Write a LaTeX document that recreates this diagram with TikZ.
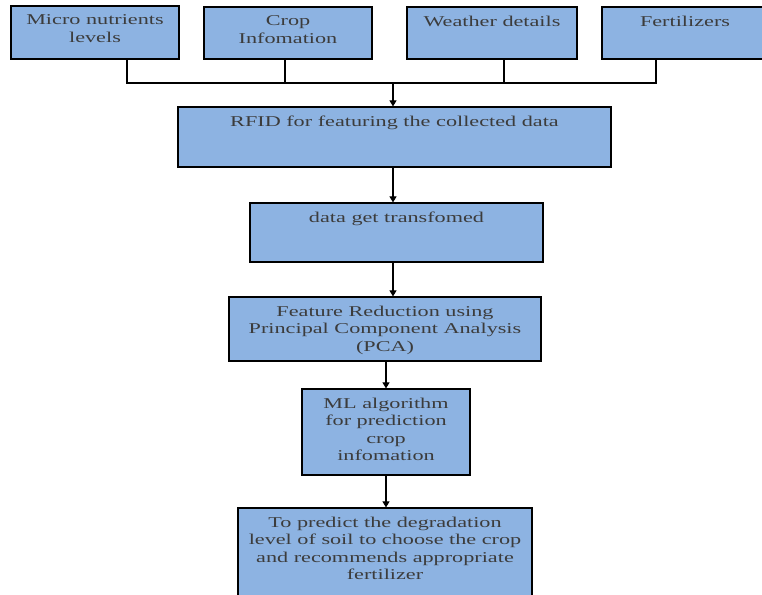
\documentclass[tikz,border=0pt]{standalone}
\usepackage{fontspec}
\setmainfont[FakeStretch=1.48]{Liberation Serif}
\usetikzlibrary{arrows.meta}
\definecolor{boxfill}{HTML}{8DB3E2}
\definecolor{txt}{HTML}{3C3C3C}
\tikzset{
  box/.style={draw=black, line width=1.2pt, fill=boxfill, inner sep=0pt, rectangle},
  lbl/.style={anchor=north, inner sep=0pt, align=center, text=txt,
              font=\fontsize{15pt}{17.5pt}\selectfont, yshift=-9.2pt},
  conn/.style={line width=1.1pt, draw=black},
  arr/.style={conn, -{Triangle[width=7pt,length=6pt]}}
}
\begin{document}
\begin{tikzpicture}[x=1pt,y=-1pt]
\clip (0,0) rectangle (762,594);
\fill[white] (0,0) rectangle (762,594);
% top row boxes
\node[box, minimum width=168pt, minimum height=53pt] (b1) at (95,32.5) {};
\node[box, minimum width=168pt, minimum height=52pt] (b2) at (288,33) {};
\node[box, minimum width=170pt, minimum height=52pt] (b3) at (492,33) {};
\node[box, minimum width=166pt, minimum height=52pt] (b4) at (685,33) {};
\node[lbl] (b1t) at (b1.north) {Micro nutrients\\levels};
\node[lbl] (b2t) at (b2.north) {Crop\\Infomation};
\node[lbl] (b3t) at (b3.north) {Weather details};
\node[lbl] (b4t) at (b4.north) {Fertilizers};
% main chain
\node[box, minimum width=433pt, minimum height=60pt] (rfid) at (394.5,137) {};
\node[lbl] (rfidt) at (rfid.north) {RFID for featuring the collected data};
\node[box, minimum width=293pt, minimum height=59pt] (data) at (396.5,232.5) {};
\node[lbl] (datat) at (data.north) {data get transfomed};
\node[box, minimum width=312pt, minimum height=64pt] (pca) at (385,329) {};
\node[lbl] (pcat) at (pca.north) {Feature Reduction using\\Principal Component Analysis\\(PCA)};
\node[box, minimum width=168pt, minimum height=86pt] (ml) at (386,432) {};
\node[lbl] (mlt) at (ml.north) {ML algorithm\\for prediction\\crop\\infomation};
\node[box, minimum width=294pt, minimum height=94pt] (last) at (385,555) {};
\node[lbl] (lastt) at (last.north) {To predict the degradation\\level of soil to choose the crop\\and recommends appropriate\\fertilizer};
% bus connectors
\coordinate (bus) at (393,83);
\coordinate (t1) at ([xshift=32pt]b1.south);
\coordinate (t2) at ([xshift=-3pt]b2.south);
\coordinate (t3) at ([xshift=12pt]b3.south);
\coordinate (t4) at ([xshift=-29pt]b4.south);
\draw[conn] (t1) |- (bus);
\draw[conn] (t4) |- (bus);
\draw[conn] (t2) -- (t2 |- bus);
\draw[conn] (t3) -- (t3 |- bus);
\draw[arr] (bus) -- (bus |- rfid.north);
\draw[arr] (rfid.south -| bus) -- (data.north -| bus);
\draw[arr] (data.south -| bus) -- (pca.north -| bus);
\draw[arr] (pca.south -| ml) -- (ml.north);
\draw[arr] (ml.south) -- (last.north -| ml);
\end{tikzpicture}
\end{document}
